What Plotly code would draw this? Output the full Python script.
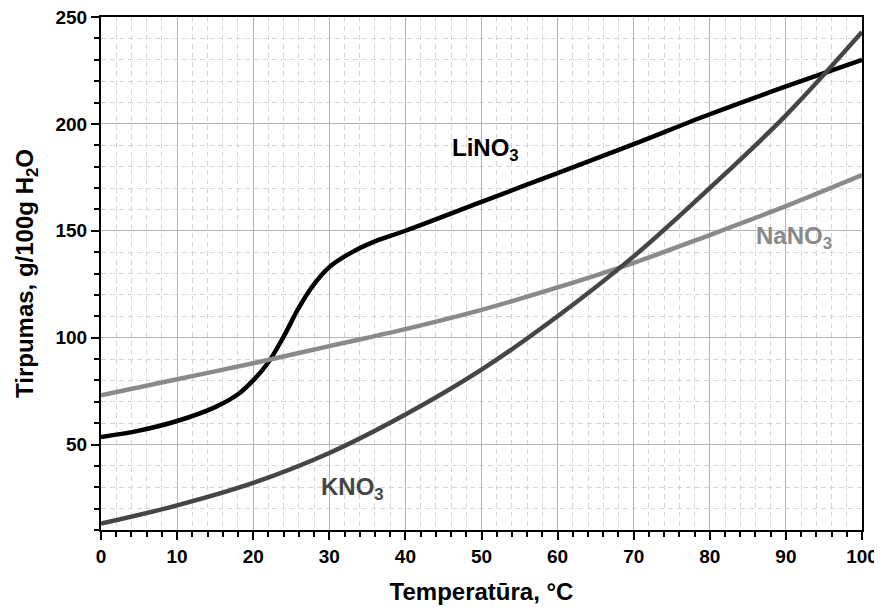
import plotly.graph_objects as go

# Data
temp_li = [0, 5, 10, 15, 18, 20, 22, 24, 26, 28, 30, 33, 36, 40, 50, 60, 70, 80, 90, 100]
lino3 = [53.5, 56.5, 61, 67.5, 73.5, 80, 88.5, 100.5, 114, 125, 133, 140, 145, 150, 163.5, 177, 190.5, 204.5, 217.5, 230]

temp = [0, 10, 20, 30, 40, 50, 60, 70, 80, 90, 100]
nano3 = [73, 80.5, 88, 96, 104, 113, 123.5, 135, 148, 161.5, 176]
kno3 = [13, 21.5, 32, 46, 64, 85, 110, 138, 170, 204, 243]

labels = ["LiNO<sub>3</sub>", "NaNO<sub>3</sub>", "KNO<sub>3</sub>"]
label_x = [50.5, 91, 33]
label_y = [188, 147, 29.5]

colors = ["#000000", "#8a8a8a", "#454545"]
FONT = "Liberation Sans, Arial, sans-serif"

fig = go.Figure()
fig.add_trace(go.Scatter(x=temp_li, y=lino3, mode="lines", line=dict(color=colors[0], width=4.5, shape="spline", smoothing=1.0), name="LiNO3"))
fig.add_trace(go.Scatter(x=temp, y=nano3, mode="lines", line=dict(color=colors[1], width=4.5, shape="spline"), name="NaNO3"))
fig.add_trace(go.Scatter(x=temp, y=kno3, mode="lines", line=dict(color=colors[2], width=4.5, shape="spline"), name="KNO3"))

for t, x, y, c in zip(labels, label_x, label_y, colors):
    fig.add_annotation(x=x, y=y, text=t, showarrow=False,
                       font=dict(family=FONT, size=24, color=c, weight="bold"))

fig.update_layout(
    width=874, height=602,
    margin=dict(l=93, r=20, t=9, b=80, autoexpand=False),
    paper_bgcolor="white", plot_bgcolor="white",
    showlegend=False,
    font=dict(family=FONT, color="black"),
)
fig.update_xaxes(
    range=[0, 100], dtick=10, tick0=0, automargin=False, ticklabeloverflow="allow",
    showline=True, linecolor="black", linewidth=2, mirror=True,
    ticks="outside", ticklen=8, tickwidth=2, tickcolor="black",
    tickfont=dict(family=FONT, size=19, weight="bold"),
    showgrid=True, gridcolor="#b4b4b4", gridwidth=1,
    zeroline=False,
    minor=dict(dtick=2, tick0=0, ticks="outside", ticklen=5, tickwidth=2, tickcolor="black",
               showgrid=True, gridcolor="#d6d6d6", griddash="5px,4px", gridwidth=1),
    title=dict(text="Temperatūra, °C", standoff=17,
               font=dict(family=FONT, size=24, weight="bold")),
)
fig.update_yaxes(
    range=[10, 250], dtick=50, tick0=0, automargin=False, ticklabeloverflow="allow",
    showline=True, linecolor="black", linewidth=2, mirror=True,
    ticks="outside", ticklen=8, tickwidth=2, tickcolor="black",
    tickfont=dict(family=FONT, size=19, weight="bold"),
    showgrid=True, gridcolor="#b4b4b4", gridwidth=1,
    zeroline=False,
    minor=dict(dtick=10, tick0=0, ticks="outside", ticklen=5, tickwidth=2, tickcolor="black",
               showgrid=True, gridcolor="#d6d6d6", griddash="5px,4px", gridwidth=1),
    title=dict(text="Tirpumas, g/100g H<sub>2</sub>O", standoff=15,
               font=dict(family=FONT, size=24, weight="bold")),
)

fig.write_html("out.html")
